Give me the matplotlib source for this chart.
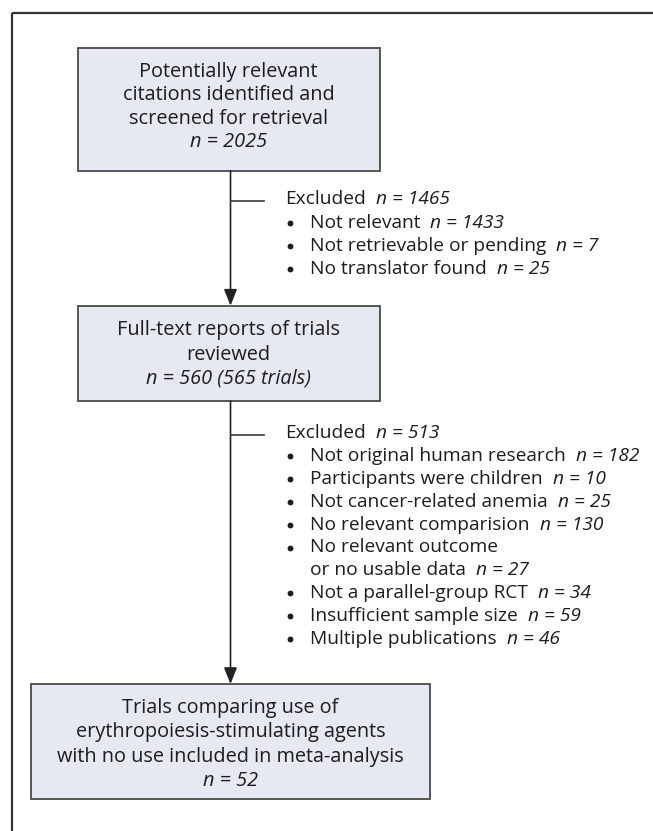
import matplotlib.pyplot as plt
from matplotlib.patches import Rectangle, FancyArrowPatch

plt.rcParams['font.family'] = ['Open Sans', 'DejaVu Sans']

# flow boxes: plain lines + italic count line
box1_text = ["Potentially relevant", "citations identified and", "screened for retrieval"]
box1_n = "n = 2025"
box2_text = ["Full-text reports of trials", "reviewed"]
box2_n = "n = 560 (565 trials)"
box3_text = ["Trials comparing use of", "erythropoiesis-stimulating agents",
             "with no use included in meta-analysis"]
box3_n = "n = 52"

# exclusions
excl1_total = 1465
excl1_reasons = ["Not relevant", "Not retrievable or pending", "No translator found"]
excl1_counts = [1433, 7, 25]

excl2_total = 513
excl2_reasons = ["Not original human research", "Participants were children",
                 "Not cancer-related anemia", "No relevant comparision",
                 "No relevant outcome\nor no usable data", "Not a parallel-group RCT",
                 "Insufficient sample size", "Multiple publications"]
excl2_counts = [182, 10, 25, 130, 27, 34, 59, 46]

W, H = 653, 831
fig = plt.figure(figsize=(W/100, H/100), dpi=100)
ax = fig.add_axes([0, 0, 1, 1])
ax.set_xlim(0, W)
ax.set_ylim(H, 0)
ax.axis('off')
r = fig.canvas.get_renderer()

tc = "#1e1c1d"
fs_box = 14.3
fs_list = 13.8
fill = "#e6e8f2"
edge = "#4a4a4a"
lc = "#3a3a3a"
xline = 230.5

# outer frame (top + left only)
ax.plot([11.7, W], [12.7, 12.7], color="#333333", lw=1.6, solid_capstyle='butt')
ax.plot([11.7, 11.7], [12.7, H], color="#333333", lw=1.6, solid_capstyle='butt')


def box(x0, x1, y0, y1, lines, nline, baselines):
    ax.add_patch(Rectangle((x0, y0), x1-x0, y1-y0, facecolor=fill,
                           edgecolor=edge, lw=1.3))
    xc = (x0 + x1) / 2
    for s, yb in zip(lines, baselines):
        ax.text(xc, yb, s, ha='center', va='baseline', fontsize=fs_box, color=tc)
    ax.text(xc, baselines[len(lines)], nline, ha='center', va='baseline',
            fontsize=fs_box, color=tc, style='italic')


def mixed(x, y, plain, italic, gap=10):
    t = ax.text(x, y, plain, ha='left', va='baseline', fontsize=fs_list, color=tc)
    w = t.get_window_extent(renderer=r).width
    ax.text(x + w + gap, y, italic, ha='left', va='baseline', fontsize=fs_list,
            color=tc, style='italic')


def excluded(y0, total, reasons, counts, step=23):
    ax.plot([xline, 264], [y0 - 4, y0 - 4], color=lc, lw=1.2)
    mixed(285, y0, "Excluded", "n = %d" % total)
    y = y0
    for reason, c in zip(reasons, counts):
        parts = reason.split("\n")
        y += step
        ax.plot(290, y - 5, 'o', ms=4.2, color=tc, mec='none')
        for p in parts[:-1]:
            ax.text(310, y, p, ha='left', va='baseline', fontsize=fs_list, color=tc)
            y += step
        mixed(310, y, parts[-1], "n = %d" % c)


def arrow(y0, y1):
    ax.add_patch(FancyArrowPatch((xline, y0), (xline, y1),
                                 arrowstyle='-|>,head_length=0.55,head_width=0.22',
                                 mutation_scale=18, color="#222222", lw=1.2,
                                 shrinkA=0, shrinkB=0))


box(77.5, 379.5, 47.7, 171, box1_text, box1_n, [77, 100, 123.5, 147])
box(77.5, 379.5, 305.7, 401, box2_text, box2_n, [335.5, 359.5, 383.5])
box(31, 430, 684, 799, box3_text, box3_n, [713, 737.5, 762, 786])

arrow(171, 305.7)
arrow(401, 684)

excluded(204.5, excl1_total, excl1_reasons, excl1_counts, step=23.3)
excluded(438.5, excl2_total, excl2_reasons, excl2_counts, step=22.8)

fig.savefig("out.png", dpi=100)
